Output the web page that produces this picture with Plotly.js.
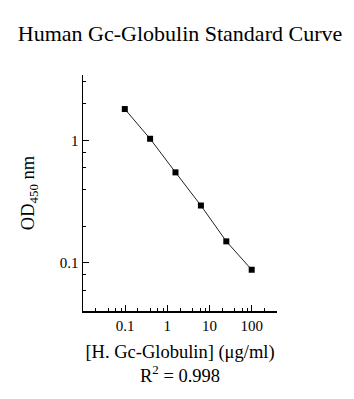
<!DOCTYPE html>
<html>
<head>
<meta charset="utf-8">
<script src="https://cdn.plot.ly/plotly-3.0.1.min.js"></script>
<style>html,body{margin:0;padding:0;background:#fff;}#chart{width:354px;height:399px;}</style>
</head>
<body>
<div id="chart"></div>
<script>
// Data
const concentration = [0.098, 0.39, 1.56, 6.25, 25, 100];   // µg/ml
const od450 = [1.80, 1.03, 0.548, 0.294, 0.150, 0.088];
const xTickVals = [0.1, 1, 10, 100];
const xTickText = ['0.1', '1', '10', '100'];
const yTickVals = [0.1, 1];
const yTickText = ['0.1', '1'];
const xMinorVals = [0.02,0.04,0.06,0.08,0.2,0.4,0.6,0.8,2,4,6,8,20,40,60,80,200,400];
const yMinorVals = [0.04,0.06,0.08,0.2,0.4,0.6,0.8,2,3];

const font = 'Liberation Serif, Times New Roman, serif';

const trace = {
  x: concentration,
  y: od450,
  type: 'scatter',
  mode: 'lines+markers',
  line: {color: '#222', width: 1},
  marker: {symbol: 'square', size: 6, color: '#000'},
  showlegend: false,
  hoverinfo: 'skip'
};

const layout = {
  width: 354, height: 399,
  margin: {l: 83, r: 77, t: 75, b: 88},
  paper_bgcolor: '#fff', plot_bgcolor: '#fff',
  font: {family: font, color: '#000', size: 15},
  title: {
    text: 'Human Gc-Globulin Standard Curve',
    font: {family: font, size: 22, color: '#000'},
    x: 0.5, xref: 'paper', xanchor: 'center',
    y: 0.917, yref: 'container', yanchor: 'middle'
  },
  xaxis: {
    type: 'log',
    range: [-2, 2.6],
    tickmode: 'array', tickvals: xTickVals, ticktext: xTickText,
    ticks: 'inside', ticklen: 6, tickwidth: 1, tickcolor: '#000',
    minor: {tickmode: 'array', tickvals: xMinorVals, ticks: 'inside', ticklen: 3, tickwidth: 1, tickcolor: '#000', showgrid: false},
    showline: true, linecolor: '#000', linewidth: 1.5,
    showgrid: false, zeroline: false, mirror: false,
    tickfont: {family: font, size: 15, color: '#000'},
    title: {text: '[H. Gc-Globulin] (\u03bcg/ml)<br>R<sup>2</sup> = 0.998', font: {family: font, size: 18.5, color: '#000'}, standoff: 12}
  },
  yaxis: {
    type: 'log',
    range: [-1.392, 0.533],
    tickmode: 'array', tickvals: yTickVals, ticktext: yTickText,
    ticks: 'inside', ticklen: 6, tickwidth: 1, tickcolor: '#000',
    minor: {tickmode: 'array', tickvals: yMinorVals, ticks: 'inside', ticklen: 3, tickwidth: 1, tickcolor: '#000', showgrid: false},
    showline: true, linecolor: '#000', linewidth: 1.5,
    showgrid: false, zeroline: false, mirror: false,
    tickfont: {family: font, size: 15, color: '#000'},
    title: {text: 'OD<sub>450</sub> nm', font: {family: font, size: 18.5, color: '#000'}, standoff: 20}
  }
};

Plotly.newPlot('chart', [trace], layout, {staticPlot: true, displayModeBar: false});
</script>
</body>
</html>
